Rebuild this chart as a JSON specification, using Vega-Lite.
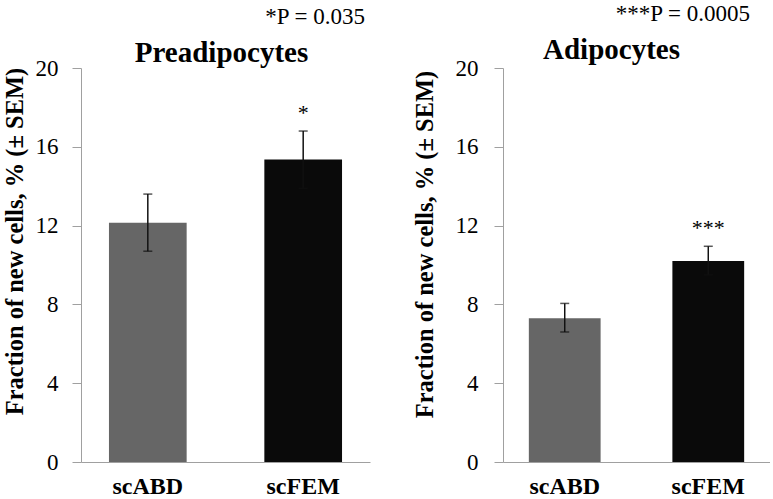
{
  "$schema": "https://vega.github.io/schema/vega-lite/v6.json",
  "background": "white",
  "padding": {"left": 2, "top": 3, "right": 0, "bottom": 0},
  "config": {
    "font": "Liberation Serif",
    "view": {"stroke": null},
    "concat": {"spacing": 42},
    "axis": {
      "labelFont": "Liberation Serif",
      "titleFont": "Liberation Serif",
      "domainColor": "#a0a0a0",
      "tickColor": "#a0a0a0",
      "labelColor": "#000000",
      "titleColor": "#000000",
      "grid": false
    },
    "title": {"font": "Liberation Serif", "fontSize": 23, "fontWeight": "normal", "color": "#000000", "anchor": "end", "offset": 10}
  },
  "datasets": {
    "pre": [
      {"group": "scABD", "value": 12.15, "lo": 10.7, "hi": 13.6, "star": ""},
      {"group": "scFEM", "value": 15.35, "lo": 13.9, "hi": 16.8, "star": "*"}
    ],
    "adi": [
      {"group": "scABD", "value": 7.3, "lo": 6.6, "hi": 8.05, "star": ""},
      {"group": "scFEM", "value": 10.2, "lo": 9.5, "hi": 10.95, "star": "***"}
    ],
    "preName": [{"name": "Preadipocytes"}],
    "adiName": [{"name": "Adipocytes"}]
  },
  "hconcat": [
    {
      "width": 289,
      "height": 394,
      "title": {"text": "*P = 0.035", "dx": -5},
      "layer": [
        {
          "data": {"name": "pre"},
          "mark": {"type": "bar"},
          "encoding": {
            "x": {"field": "group", "type": "nominal", "sort": ["scABD", "scFEM"],
              "scale": {"paddingInner": 0.5, "paddingOuter": 0.18},
              "axis": {"title": null, "labelAngle": 0, "labelFontSize": 24, "labelFontWeight": "bold", "ticks": false, "labelPadding": 12}},
            "y": {"field": "value", "type": "quantitative",
              "scale": {"domain": [0, 20], "nice": false},
              "axis": {"values": [0, 4, 8, 12, 16, 20], "title": "Fraction of new cells, % (± SEM)", "titleFontSize": 24.5, "titleFontWeight": "bold", "labelFontSize": 23, "tickSize": 9, "labelPadding": 14, "titlePadding": 8, "titleY": 173}},
            "color": {"field": "group", "type": "nominal", "scale": {"domain": ["scABD", "scFEM"], "range": ["#666666", "#0a0a0a"]}, "legend": null}
          }
        },
        {
          "data": {"name": "pre"},
          "mark": {"type": "rule", "color": "#111111", "strokeWidth": 1.5},
          "encoding": {"x": {"field": "group", "type": "nominal"}, "y": {"field": "lo", "type": "quantitative"}, "y2": {"field": "hi"}}
        },
        {
          "data": {"name": "pre"},
          "mark": {"type": "tick", "color": "#111111", "size": 9, "thickness": 1.5},
          "encoding": {"x": {"field": "group", "type": "nominal"}, "y": {"field": "hi", "type": "quantitative"}}
        },
        {
          "data": {"name": "pre"},
          "mark": {"type": "tick", "color": "#111111", "size": 9, "thickness": 1.5},
          "encoding": {"x": {"field": "group", "type": "nominal"}, "y": {"field": "lo", "type": "quantitative"}}
        },
        {
          "data": {"name": "pre"},
          "mark": {"type": "text", "fontSize": 22, "baseline": "bottom", "dy": -6},
          "encoding": {"x": {"field": "group", "type": "nominal"}, "y": {"field": "hi", "type": "quantitative"}, "text": {"field": "star"}}
        },
        {
          "data": {"name": "preName"},
          "mark": {"type": "text", "fontSize": 29, "fontWeight": "bold", "align": "center", "baseline": "alphabetic", "dx": -4},
          "encoding": {"y": {"datum": 20.3, "type": "quantitative"}, "text": {"field": "name"}}
        }
      ]
    },
    {
      "width": 267,
      "height": 394,
      "title": {"text": "***P = 0.0005", "dx": -20},
      "layer": [
        {
          "data": {"name": "adi"},
          "mark": {"type": "bar"},
          "encoding": {
            "x": {"field": "group", "type": "nominal", "sort": ["scABD", "scFEM"],
              "scale": {"paddingInner": 0.5, "paddingOuter": 0.18},
              "axis": {"title": null, "labelAngle": 0, "labelFontSize": 24, "labelFontWeight": "bold", "ticks": false, "labelPadding": 12}},
            "y": {"field": "value", "type": "quantitative",
              "scale": {"domain": [0, 20], "nice": false},
              "axis": {"values": [0, 4, 8, 12, 16, 20], "title": "Fraction of new cells, % (± SEM)", "titleFontSize": 24.5, "titleFontWeight": "bold", "labelFontSize": 23, "tickSize": 9, "labelPadding": 16, "titlePadding": 18, "titleY": 176}},
            "color": {"field": "group", "type": "nominal", "scale": {"domain": ["scABD", "scFEM"], "range": ["#666666", "#0a0a0a"]}, "legend": null}
          }
        },
        {
          "data": {"name": "adi"},
          "mark": {"type": "rule", "color": "#111111", "strokeWidth": 1.5},
          "encoding": {"x": {"field": "group", "type": "nominal"}, "y": {"field": "lo", "type": "quantitative"}, "y2": {"field": "hi"}}
        },
        {
          "data": {"name": "adi"},
          "mark": {"type": "tick", "color": "#111111", "size": 9, "thickness": 1.5},
          "encoding": {"x": {"field": "group", "type": "nominal"}, "y": {"field": "hi", "type": "quantitative"}}
        },
        {
          "data": {"name": "adi"},
          "mark": {"type": "tick", "color": "#111111", "size": 9, "thickness": 1.5},
          "encoding": {"x": {"field": "group", "type": "nominal"}, "y": {"field": "lo", "type": "quantitative"}}
        },
        {
          "data": {"name": "adi"},
          "mark": {"type": "text", "fontSize": 22, "baseline": "bottom", "dy": -6},
          "encoding": {"x": {"field": "group", "type": "nominal"}, "y": {"field": "hi", "type": "quantitative"}, "text": {"field": "star"}}
        },
        {
          "data": {"name": "adiName"},
          "mark": {"type": "text", "fontSize": 29, "fontWeight": "bold", "align": "center", "baseline": "alphabetic", "dx": -25},
          "encoding": {"y": {"datum": 20.45, "type": "quantitative"}, "text": {"field": "name"}}
        }
      ]
    }
  ]
}
